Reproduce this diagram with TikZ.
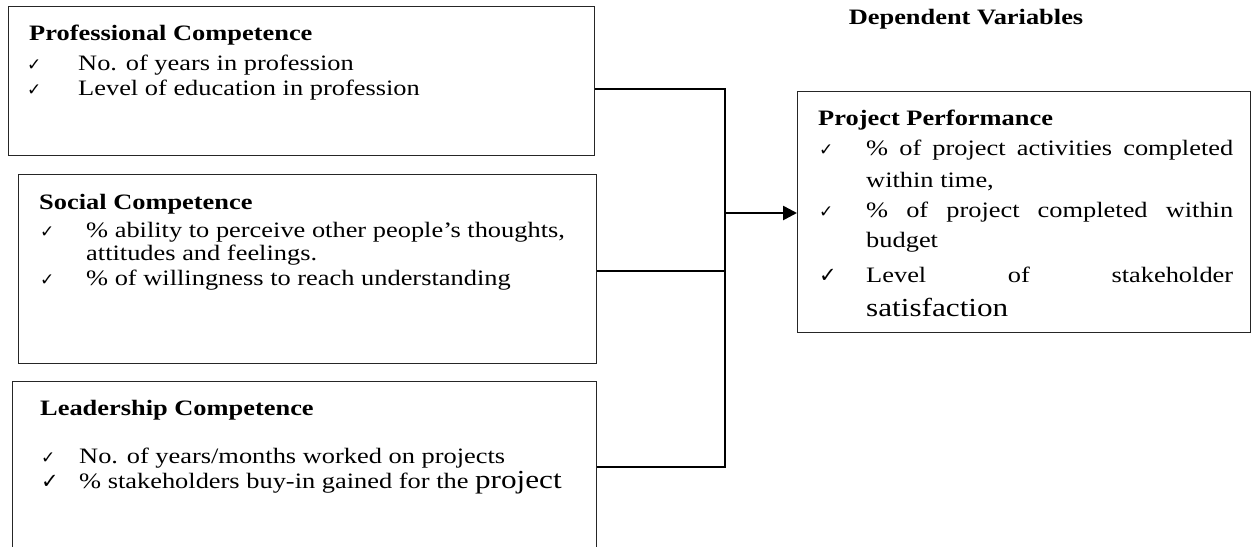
\documentclass[tikz,border=0pt]{standalone}
\usepackage{fontspec}
\setmainfont{Liberation Serif}[FakeStretch=1.2]
\newfontfamily\ckfont{DejaVu Sans}
\usetikzlibrary{arrows.meta}
\begin{document}
\begin{tikzpicture}[x=1pt,y=-1pt,
  box/.style={draw=black!85, line width=1.2pt, inner sep=0pt, anchor=north west},
  txt/.style={anchor=base west, inner sep=0pt, font=\fontsize{22}{25}\selectfont},
  hd/.style={anchor=base west, inner sep=0pt, font=\fontsize{22}{25}\selectfont\bfseries},
  ck/.style={anchor=base west, inner sep=0pt, font=\ckfont\fontsize{17}{17}\selectfont},
  ckbig/.style={anchor=base west, inner sep=0pt, font=\ckfont\fontsize{21}{21}\selectfont},
  conn/.style={line width=2.6pt, black}]
\useasboundingbox (0,0) rectangle (1252,546);
\clip (0,0) rectangle (1252,546);

% boxes
\node[box, minimum width=586pt, minimum height=149pt] (b1) at (8,6) {};
\node[box, minimum width=578pt, minimum height=189pt] (b2) at (18,174) {};
\node[box, minimum width=584pt, minimum height=200pt] (b3) at (12,381) {};
\node[box, minimum width=453pt, minimum height=241pt] (pp) at (797,91) {};

% title
\node[hd, anchor=base] (dv) at (966,24) {Dependent Variables};

% Professional competence
\node[hd] (h1) at (29,40) {Professional Competence};
\node[ck] (c11) at (27,70) {✓};
\node[txt] (t11) at (78,70) {No. of years in profession};
\node[ck] (c12) at (27,95) {✓};
\node[txt] (t12) at (78,95) {Level of education in profession};

% Social competence
\node[hd] (h2) at (39,209) {Social Competence};
\node[ck] (c21) at (40,237) {✓};
\node[txt] (t21) at (86,237) {\% ability to perceive other people’s thoughts,};
\node[txt] (t22) at (86,260) {attitudes and feelings.};
\node[ck] (c23) at (40,285) {✓};
\node[txt] (t23) at (86,285) {\% of willingness to reach understanding};

% Leadership competence
\node[hd] (h3) at (40,415) {Leadership Competence};
\node[ck] (c31) at (41,463) {✓};
\node[txt] (t31) at (79,463) {No. of years/months worked on projects};
\node[ckbig] (c32) at (41,488) {✓};
\node[txt] (t32) at (79,488) {\% stakeholders buy-in gained for the {\fontsize{26}{26}\selectfont project}};

% Project performance
\node[hd] (hp) at (818,125) {Project Performance};
\node[ck] (cp1) at (819,155) {✓};
\node[txt] (tp1) at (866,155) {\makebox[367pt][s]{\% of project activities completed}};
\node[txt] (tp2) at (866,187) {within time,};
\node[ck] (cp3) at (819,217) {✓};
\node[txt] (tp3) at (866,217) {\makebox[367pt][s]{\% of project completed within}};
\node[txt] (tp4) at (866,247) {budget};
\node[ckbig] (cp5) at (819,282) {✓};
\node[txt] (tp5) at (866,282) {\makebox[367pt][s]{Level of stakeholder}};
\node[txt, font=\fontsize{26}{26}\selectfont] (tp6) at (866,316) {satisfaction};

% connectors
\coordinate (j1) at (725,89);
\coordinate (j2) at (725,271);
\coordinate (j3) at (725,467);
\coordinate (jm) at (725,213);
\draw[conn] (b1.east|-j1) -- (j1) -- (j3) -- (b3.east|-j3);
\draw[conn] (b2.east|-j2) -- (j2);
\draw[conn, -{Triangle[length=14pt,width=14pt]}] (jm) -- (pp.west|-jm);
\end{tikzpicture}
\end{document}
